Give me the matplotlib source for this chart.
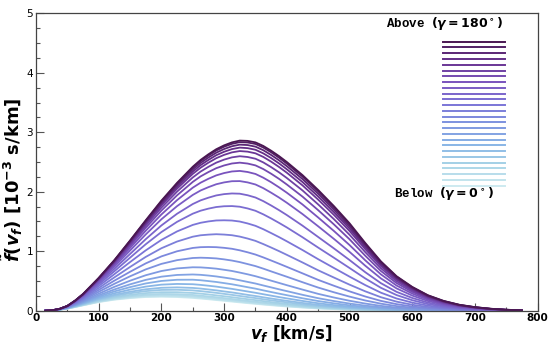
import numpy as np
import matplotlib
matplotlib.use('Agg')
import matplotlib.pyplot as plt
from matplotlib.colors import LinearSegmentedColormap
from matplotlib.ticker import MultipleLocator

plt.rcParams['mathtext.fontset'] = 'custom'
plt.rcParams['mathtext.rm'] = 'DejaVu Sans:bold'
plt.rcParams['mathtext.it'] = 'DejaVu Sans:italic:bold'
plt.rcParams['mathtext.bf'] = 'DejaVu Sans:bold'

# speed grid, km/s (denser at the start and around the peaks)
speed = [15, 25, 37.5, 50, 62.5, 75, 100, 125, 150, 175, 200, 225, 250,
         262.5, 275, 287.5, 300, 312.5, 325, 337.5, 350, 362.5, 375, 387.5, 400,
         425, 450, 475, 500, 525, 550, 575, 600, 625, 650, 675, 700, 725, 750, 775]

# f(v_f) in 1e-3 s/km, one list per angle, from below (gamma=0) to above (gamma=180)
f_below_00 = [0, 0.004, 0.017, 0.035, 0.062, 0.09, 0.145, 0.185, 0.212, 0.23, 0.235, 0.23, 0.215, 0.204, 0.192, 0.179, 0.166, 0.153, 0.14, 0.127, 0.115, 0.103, 0.092, 0.081, 0.071,
              0.053, 0.038, 0.027, 0.018, 0.012, 0.0075, 0.0045, 0.0026, 0.0014, 0.0007, 0.0003, 0, 0, 0, 0]
f_01 = [0, 0.004, 0.0172, 0.036, 0.063, 0.092, 0.149, 0.191, 0.219, 0.239, 0.245, 0.241, 0.226, 0.215, 0.202, 0.189, 0.176, 0.162, 0.149, 0.135, 0.123, 0.110, 0.098, 0.087, 0.076,
        0.057, 0.041, 0.029, 0.020, 0.013, 0.008, 0.005, 0.003, 0.002, 0.001, 0, 0, 0, 0, 0]
f_02 = [0, 0.004, 0.0175, 0.036, 0.065, 0.095, 0.155, 0.200, 0.231, 0.253, 0.260, 0.257, 0.243, 0.231, 0.219, 0.205, 0.191, 0.177, 0.163, 0.148, 0.135, 0.121, 0.109, 0.096, 0.085,
        0.064, 0.046, 0.033, 0.022, 0.015, 0.009, 0.006, 0.003, 0.002, 0.001, 0, 0, 0, 0, 0]
f_03 = [0, 0.004, 0.0178, 0.037, 0.068, 0.099, 0.163, 0.211, 0.245, 0.270, 0.281, 0.278, 0.265, 0.253, 0.239, 0.226, 0.211, 0.196, 0.180, 0.165, 0.151, 0.136, 0.122, 0.109, 0.096,
        0.073, 0.053, 0.038, 0.026, 0.018, 0.011, 0.007, 0.004, 0.002, 0.001, 0, 0, 0, 0, 0]
f_04 = [0, 0.004, 0.0184, 0.039, 0.071, 0.104, 0.174, 0.228, 0.266, 0.296, 0.311, 0.311, 0.298, 0.287, 0.273, 0.258, 0.243, 0.227, 0.210, 0.193, 0.178, 0.161, 0.144, 0.129, 0.115,
        0.088, 0.065, 0.047, 0.033, 0.022, 0.014, 0.009, 0.005, 0.003, 0.001, 0, 0, 0, 0, 0]
f_05 = [0, 0.004, 0.019, 0.041, 0.075, 0.111, 0.187, 0.248, 0.293, 0.329, 0.349, 0.352, 0.341, 0.329, 0.315, 0.300, 0.283, 0.266, 0.248, 0.229, 0.212, 0.192, 0.174, 0.157, 0.140,
        0.108, 0.081, 0.059, 0.042, 0.029, 0.018, 0.011, 0.007, 0.004, 0.002, 0.001, 0, 0, 0, 0]
f_06 = [0, 0.004, 0.0195, 0.043, 0.079, 0.117, 0.200, 0.267, 0.318, 0.360, 0.385, 0.392, 0.383, 0.372, 0.357, 0.342, 0.324, 0.307, 0.287, 0.266, 0.247, 0.225, 0.205, 0.185, 0.166,
        0.130, 0.098, 0.073, 0.051, 0.036, 0.023, 0.014, 0.009, 0.005, 0.003, 0.001, 0, 0, 0, 0]
f_07 = [0, 0.004, 0.020, 0.045, 0.084, 0.126, 0.217, 0.293, 0.354, 0.405, 0.438, 0.450, 0.445, 0.434, 0.420, 0.405, 0.386, 0.367, 0.345, 0.323, 0.301, 0.277, 0.253, 0.229, 0.207,
        0.164, 0.125, 0.094, 0.068, 0.047, 0.031, 0.019, 0.012, 0.007, 0.004, 0.002, 0.001, 0, 0, 0]
f_08 = [0, 0.004, 0.021, 0.047, 0.090, 0.136, 0.236, 0.324, 0.396, 0.458, 0.500, 0.520, 0.521, 0.512, 0.498, 0.483, 0.464, 0.444, 0.420, 0.395, 0.371, 0.342, 0.314, 0.287, 0.261,
        0.209, 0.162, 0.124, 0.090, 0.063, 0.042, 0.027, 0.016, 0.009, 0.005, 0.003, 0.001, 0, 0, 0]
f_09 = [0, 0.004, 0.0217, 0.050, 0.096, 0.146, 0.258, 0.357, 0.443, 0.518, 0.572, 0.601, 0.609, 0.603, 0.591, 0.576, 0.557, 0.537, 0.511, 0.484, 0.457, 0.424, 0.392, 0.360, 0.329,
        0.267, 0.210, 0.162, 0.120, 0.085, 0.057, 0.036, 0.023, 0.013, 0.007, 0.004, 0.002, 0.001, 0, 0]
f_10 = [0, 0.004, 0.0227, 0.053, 0.103, 0.159, 0.285, 0.401, 0.504, 0.596, 0.667, 0.711, 0.730, 0.728, 0.719, 0.707, 0.688, 0.668, 0.641, 0.612, 0.580, 0.543, 0.505, 0.467, 0.429,
        0.355, 0.283, 0.222, 0.167, 0.120, 0.081, 0.052, 0.033, 0.020, 0.011, 0.006, 0.003, 0.002, 0.001, 0]
f_11 = [0, 0.005, 0.0237, 0.057, 0.112, 0.174, 0.317, 0.452, 0.578, 0.694, 0.787, 0.850, 0.886, 0.891, 0.887, 0.879, 0.863, 0.843, 0.817, 0.784, 0.750, 0.707, 0.661, 0.616, 0.571,
        0.479, 0.389, 0.310, 0.237, 0.172, 0.118, 0.077, 0.049, 0.030, 0.017, 0.009, 0.005, 0.003, 0.001, 0]
f_12 = [0, 0.005, 0.0247, 0.060, 0.120, 0.189, 0.349, 0.505, 0.654, 0.795, 0.913, 0.999, 1.055, 1.068, 1.071, 1.068, 1.057, 1.041, 1.015, 0.982, 0.944, 0.896, 0.844, 0.791, 0.737,
        0.628, 0.518, 0.420, 0.325, 0.239, 0.165, 0.110, 0.071, 0.043, 0.025, 0.014, 0.008, 0.004, 0.002, 0.001]
f_13 = [0, 0.005, 0.0257, 0.064, 0.129, 0.205, 0.381, 0.560, 0.735, 0.904, 1.050, 1.163, 1.244, 1.268, 1.279, 1.286, 1.280, 1.269, 1.246, 1.213, 1.174, 1.120, 1.062, 1.002, 0.939,
        0.811, 0.679, 0.558, 0.438, 0.326, 0.227, 0.152, 0.100, 0.062, 0.037, 0.020, 0.012, 0.006, 0.003, 0.001]
f_14 = [0, 0.005, 0.0266, 0.067, 0.137, 0.219, 0.414, 0.614, 0.817, 1.014, 1.190, 1.333, 1.442, 1.478, 1.501, 1.517, 1.520, 1.516, 1.499, 1.467, 1.427, 1.370, 1.305, 1.238, 1.167,
        1.020, 0.866, 0.719, 0.573, 0.431, 0.303, 0.205, 0.136, 0.085, 0.051, 0.029, 0.017, 0.009, 0.004, 0.001]
f_15 = [0, 0.005, 0.0274, 0.070, 0.144, 0.233, 0.443, 0.663, 0.891, 1.117, 1.322, 1.494, 1.631, 1.681, 1.716, 1.743, 1.756, 1.759, 1.748, 1.719, 1.680, 1.620, 1.551, 1.477, 1.400,
        1.235, 1.061, 0.891, 0.718, 0.543, 0.385, 0.263, 0.176, 0.111, 0.068, 0.039, 0.023, 0.012, 0.006, 0.002]
f_16 = [0, 0.005, 0.028, 0.072, 0.150, 0.243, 0.466, 0.704, 0.953, 1.202, 1.433, 1.630, 1.793, 1.855, 1.900, 1.938, 1.960, 1.971, 1.967, 1.941, 1.903, 1.842, 1.769, 1.691, 1.608,
        1.430, 1.239, 1.048, 0.852, 0.648, 0.463, 0.317, 0.214, 0.136, 0.084, 0.049, 0.029, 0.015, 0.007, 0.003]
f_17 = [0, 0.005, 0.0285, 0.074, 0.155, 0.253, 0.488, 0.741, 1.011, 1.282, 1.537, 1.758, 1.946, 2.021, 2.077, 2.126, 2.157, 2.177, 2.179, 2.157, 2.122, 2.060, 1.984, 1.903, 1.815,
        1.625, 1.419, 1.208, 0.989, 0.757, 0.543, 0.375, 0.254, 0.163, 0.101, 0.059, 0.035, 0.019, 0.009, 0.003]
f_18 = [0, 0.005, 0.0289, 0.076, 0.159, 0.260, 0.504, 0.770, 1.055, 1.344, 1.618, 1.859, 2.068, 2.152, 2.218, 2.275, 2.314, 2.341, 2.350, 2.332, 2.299, 2.236, 2.160, 2.075, 1.984,
        1.786, 1.567, 1.341, 1.104, 0.848, 0.611, 0.423, 0.288, 0.185, 0.116, 0.069, 0.041, 0.022, 0.011, 0.004]
f_19 = [0, 0.005, 0.0292, 0.077, 0.162, 0.266, 0.517, 0.793, 1.090, 1.394, 1.683, 1.940, 2.165, 2.258, 2.331, 2.396, 2.442, 2.475, 2.489, 2.474, 2.443, 2.381, 2.303, 2.217, 2.122,
        1.918, 1.690, 1.452, 1.201, 0.925, 0.668, 0.464, 0.317, 0.205, 0.128, 0.077, 0.046, 0.025, 0.012, 0.004]
f_20 = [0, 0.005, 0.0295, 0.078, 0.165, 0.270, 0.527, 0.810, 1.117, 1.431, 1.732, 2.002, 2.240, 2.339, 2.419, 2.489, 2.540, 2.578, 2.597, 2.584, 2.555, 2.493, 2.414, 2.327, 2.231,
        2.022, 1.787, 1.540, 1.277, 0.986, 0.714, 0.496, 0.340, 0.220, 0.139, 0.083, 0.050, 0.027, 0.013, 0.005]
f_21 = [0, 0.005, 0.0296, 0.079, 0.166, 0.273, 0.535, 0.823, 1.138, 1.461, 1.772, 2.052, 2.300, 2.404, 2.489, 2.564, 2.620, 2.662, 2.684, 2.674, 2.646, 2.585, 2.506, 2.417, 2.320,
        2.107, 1.867, 1.612, 1.340, 1.036, 0.752, 0.524, 0.360, 0.233, 0.147, 0.089, 0.053, 0.029, 0.014, 0.005]
f_22 = [0, 0.005, 0.0298, 0.079, 0.168, 0.276, 0.540, 0.832, 1.152, 1.480, 1.797, 2.084, 2.339, 2.447, 2.535, 2.614, 2.672, 2.717, 2.742, 2.733, 2.706, 2.645, 2.566, 2.477, 2.378,
        2.163, 1.920, 1.660, 1.382, 1.070, 0.777, 0.542, 0.373, 0.242, 0.153, 0.092, 0.055, 0.030, 0.015, 0.005]
f_23 = [0, 0.005, 0.030, 0.079, 0.169, 0.277, 0.544, 0.840, 1.164, 1.497, 1.820, 2.112, 2.374, 2.484, 2.575, 2.656, 2.718, 2.765, 2.792, 2.785, 2.758, 2.698, 2.618, 2.529, 2.430,
        2.213, 1.966, 1.702, 1.419, 1.099, 0.799, 0.558, 0.384, 0.249, 0.158, 0.096, 0.057, 0.031, 0.015, 0.006]
f_24 = [0, 0.005, 0.030, 0.080, 0.1695, 0.279, 0.548, 0.846, 1.174, 1.511, 1.839, 2.136, 2.403, 2.516, 2.609, 2.693, 2.757, 2.805, 2.834, 2.828, 2.803, 2.743, 2.663, 2.573, 2.473,
        2.254, 2.006, 1.738, 1.451, 1.124, 0.818, 0.572, 0.394, 0.256, 0.162, 0.098, 0.059, 0.032, 0.016, 0.006]
f_above_25 = [0, 0.005, 0.030, 0.08, 0.17, 0.28, 0.55, 0.85, 1.18, 1.52, 1.85, 2.15, 2.42, 2.535, 2.63, 2.715, 2.78, 2.83, 2.86, 2.855, 2.83, 2.77, 2.69, 2.60, 2.50,
              2.28, 2.03, 1.76, 1.47, 1.14, 0.83, 0.58, 0.40, 0.26, 0.165, 0.10, 0.06, 0.033, 0.016, 0.006]

curves = [f_below_00, f_01, f_02, f_03, f_04, f_05, f_06, f_07, f_08, f_09, f_10, f_11, f_12,
          f_13, f_14, f_15, f_16, f_17, f_18, f_19, f_20, f_21, f_22, f_23, f_24, f_above_25]

palette = ['#cdeaf0', '#a6d3e6', '#87b4e6', '#7d94e0', '#7b73d6', '#7a55bf', '#683392', '#4a1752']
cmap = LinearSegmentedColormap.from_list('dense_like', palette)
colors = cmap(np.linspace(0, 1, len(curves)))

fig = plt.figure(figsize=(5.56, 3.5), dpi=100)
ax = fig.add_axes([0.0647, 0.1123, 0.9023, 0.8497])

for c, col in zip(curves, colors):
    ax.plot(speed, c, color=col, lw=1.3)

# colour key drawn as stacked short lines
key_y = np.linspace(0.420, 0.9045, len(curves))
for y, col in zip(key_y, colors):
    ax.plot([0.811, 0.935], [y, y], transform=ax.transAxes, color=col, lw=1.4)
ax.text(0.814, 0.967, r'Above $(\gamma = 180^\circ)$', transform=ax.transAxes,
        ha='center', va='center', fontsize=9, family='Liberation Mono', weight='bold')
ax.text(0.814, 0.395, r'Below $(\gamma = 0^\circ)$', transform=ax.transAxes,
        ha='center', va='center', fontsize=9, family='Liberation Mono', weight='bold')

ax.set_xlim(0, 800)
ax.set_ylim(0, 5)
ax.xaxis.set_major_locator(MultipleLocator(100))
ax.xaxis.set_minor_locator(MultipleLocator(50))
ax.yaxis.set_major_locator(MultipleLocator(1))
ax.yaxis.set_minor_locator(MultipleLocator(0.25))
ax.tick_params(which='both', direction='in', color='#555555', width=0.8)
ax.tick_params(which='major', length=6, labelsize=7.5, pad=2)
ax.tick_params(which='minor', length=3)
for lab in ax.get_xticklabels():
    lab.set_fontweight('bold')
for sp in ax.spines.values():
    sp.set_color('#444444')
    sp.set_linewidth(0.9)

ax.set_xlabel(r'$v_f$ [km/s]', fontsize=12, fontweight='bold')
ax.set_ylabel(r'$\tilde{f}(v_f)$ [10$^{-3}$ s/km]', fontsize=13, fontweight='bold')
ax.xaxis.set_label_coords(0.508, -0.043)
ax.yaxis.set_label_coords(-0.022, 0.44)

fig.savefig('out.png', dpi=100)
